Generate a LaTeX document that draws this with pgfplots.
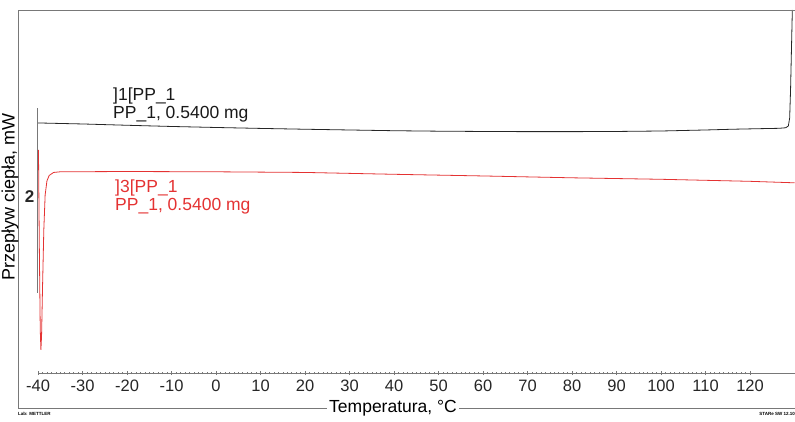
\documentclass[border=0pt]{standalone}
\usepackage{fontspec}
\setmainfont{Liberation Sans}
\usepackage{pgfplots}
\pgfplotsset{compat=1.18}
\definecolor{dscred}{RGB}{228,50,50}
\definecolor{framegray}{RGB}{120,120,120}
\begin{document}
\begin{tikzpicture}
\useasboundingbox (-18pt,-13pt) rectangle (777pt,408pt);
\begin{axis}[
  at={(0pt,35pt)}, anchor=south west,
  scale only axis, width=777pt, height=363pt,
  xmin=-44.5, xmax=130.1, ymin=0, ymax=3.924,
  axis line style={draw=none},
  ytick=\empty,
  xtick={-40,-30,...,120},
  minor x tick num=9,
  xtick pos=lower, xtick align=center,
  major tick length=4pt, minor tick length=2.5pt,
  every tick/.style={framegray, line width=0.5pt},
  xticklabel style={font=\fontsize{16.5}{16.5}\selectfont, text=black!85, yshift=-1.5pt},
  /pgf/number format/assume math mode=true,
  clip=false,
]
% x axis line
\draw[framegray, line width=0.6pt] (axis cs:-40,0) -- (axis cs:130.1,0);
% scale bar 2 mW
\draw[framegray, line width=0.6pt] (axis cs:-40.22,0.865) -- (axis cs:-40.22,2.865);
\node[font=\fontsize{17}{17}\selectfont\bfseries, text=black!85] at (axis cs:-41.9,1.903) {2};

% black curve: ]1[PP_1
\addplot[black!85, line width=0.8pt] coordinates {
(-40,2.703) (-30,2.692) (-20,2.678) (-10,2.665) (0,2.654) (10,2.644)
(20,2.635) (30,2.627) (40,2.619) (50,2.614) (60,2.611) (70,2.609)
(80,2.609) (90,2.611) (100,2.616) (110,2.627) (116,2.635) (122,2.641)
(126.5,2.645) (128.0,2.651) (128.6,2.670) (128.9,2.757) (129.1,3.059)
(129.3,3.492) (129.5,3.924)
};
% red curve: ]3[PP_1
\addplot[dscred, line width=0.8pt] coordinates {
(-39.9,2.411) (-39.7,1.330) (-39.5,0.465) (-39.35,0.249) (-39.2,0.411)
(-39.0,0.897) (-38.7,1.546) (-38.4,1.924) (-38.0,2.076) (-37.5,2.135)
(-36.5,2.168) (-35,2.175) (-20,2.178) (0,2.175) (20,2.168) (40,2.148)
(60,2.130) (80,2.110) (100,2.094) (120,2.072) (130,2.056)
};

\node[anchor=west, inner sep=0pt, font=\fontsize{17.5}{17.5}\selectfont, text=black!90] at (axis cs:-23.15,2.995) {]1[PP\_1};
\node[anchor=west, inner sep=0pt, font=\fontsize{17.5}{17.5}\selectfont, text=black!90] at (axis cs:-23.15,2.800) {PP\_1, 0.5400 mg};
\node[anchor=west, inner sep=0pt, font=\fontsize{17.5}{17.5}\selectfont, text=dscred] at (axis cs:-22.7,2.0) {]3[PP\_1};
\node[anchor=west, inner sep=0pt, font=\fontsize{17.5}{17.5}\selectfont, text=dscred] at (axis cs:-22.7,1.805) {PP\_1, 0.5400 mg};
\end{axis}
% frame
\draw[framegray, line width=0.7pt] (0pt,0pt) rectangle (777pt,398pt);
\node[fill=white, inner sep=2pt, font=\fontsize{17.5}{17.5}\selectfont] at (375pt,0pt) {Temperatura, °C};
\node[rotate=90, font=\fontsize{18}{18}\selectfont] at (-8pt,211pt) {Przepływ ciepła, mW};
\node[anchor=west, inner sep=0pt, font=\fontsize{4.5}{4.5}\selectfont\bfseries] at (0pt,-6pt) {Lab: METTLER};
\node[anchor=east, inner sep=0pt, font=\fontsize{4.5}{4.5}\selectfont\bfseries] at (777pt,-6pt) {STARe SW 12.10};
\end{tikzpicture}
\end{document}
